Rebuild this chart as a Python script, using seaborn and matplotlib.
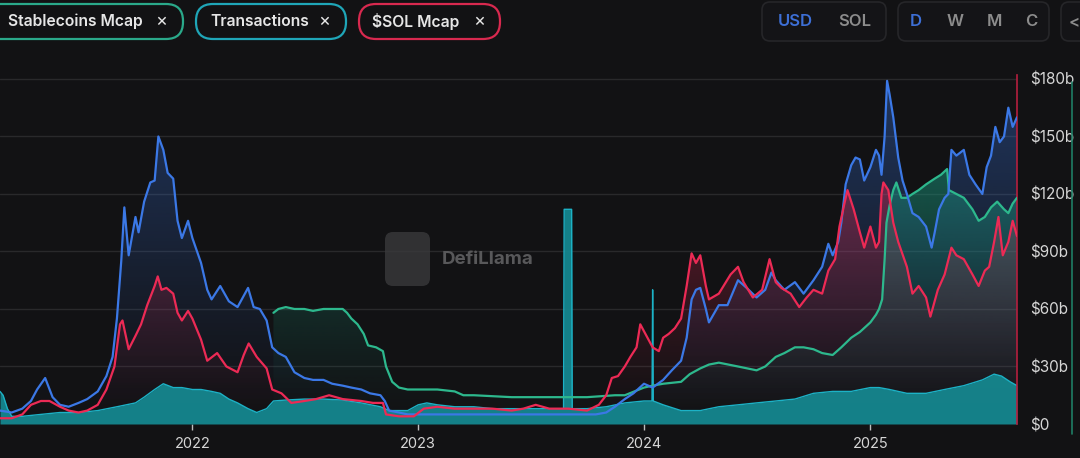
import numpy as np
import pandas as pd
import matplotlib
matplotlib.use("Agg")
import matplotlib.pyplot as plt
import matplotlib.dates as mdates
from matplotlib.patches import FancyBboxPatch
from matplotlib.lines import Line2D
from matplotlib.colors import to_rgb
import seaborn as sns

# ---------------- data (values in $ billions) ----------------
tvl_dates = [
    "2021-02-24", "2021-03-15", "2021-04-01", "2021-04-15", "2021-04-25", "2021-05-08", "2021-05-20", "2021-06-01", "2021-06-15", "2021-07-01",
    "2021-07-15", "2021-08-01", "2021-08-15", "2021-08-25", "2021-09-01", "2021-09-08", "2021-09-13", "2021-09-20", "2021-10-01", "2021-10-06",
    "2021-10-15", "2021-10-25", "2021-11-01", "2021-11-07", "2021-11-15", "2021-11-22", "2021-12-01", "2021-12-08", "2021-12-15", "2021-12-25",
    "2022-01-01", "2022-01-15", "2022-01-25", "2022-02-01", "2022-02-15", "2022-03-01", "2022-03-15", "2022-04-01", "2022-04-10", "2022-04-20",
    "2022-05-01", "2022-05-10", "2022-05-20", "2022-06-01", "2022-06-15", "2022-07-01", "2022-07-15", "2022-08-01", "2022-08-15", "2022-09-01",
    "2022-09-15", "2022-10-01", "2022-10-15", "2022-11-01", "2022-11-08", "2022-11-15", "2022-12-01", "2022-12-15", "2023-01-15", "2023-03-01",
    "2023-05-01", "2023-07-01", "2023-09-01", "2023-10-15", "2023-11-01", "2023-11-15", "2023-12-01", "2023-12-15", "2024-01-01", "2024-01-15",
    "2024-02-01", "2024-02-15", "2024-03-01", "2024-03-10", "2024-03-18", "2024-03-25", "2024-04-01", "2024-04-10", "2024-04-15", "2024-05-01",
    "2024-05-15", "2024-06-01", "2024-06-15", "2024-07-01", "2024-07-15", "2024-07-25", "2024-08-01", "2024-08-15", "2024-09-01", "2024-09-15",
    "2024-10-01", "2024-10-15", "2024-10-25", "2024-11-01", "2024-11-10", "2024-11-15", "2024-11-22", "2024-12-01", "2024-12-08", "2024-12-15",
    "2024-12-22", "2025-01-01", "2025-01-10", "2025-01-15", "2025-01-19", "2025-01-24", "2025-01-28", "2025-02-01", "2025-02-07", "2025-02-15",
    "2025-02-22", "2025-03-01", "2025-03-10", "2025-03-20", "2025-04-01", "2025-04-10", "2025-04-15", "2025-04-22", "2025-05-01", "2025-05-07",
    "2025-05-12", "2025-05-20", "2025-06-01", "2025-06-10", "2025-06-20", "2025-07-01", "2025-07-08", "2025-07-15", "2025-07-22", "2025-07-29",
    "2025-08-05", "2025-08-12", "2025-08-19", "2025-08-26",
]
tvl_vals = [
    7, 6, 8, 12, 18, 24, 14, 10, 9, 11,
    13, 17, 25, 35, 55, 85, 113, 88, 108, 100,
    116, 126, 127, 150, 143, 131, 128, 106, 97, 106,
    97, 84, 70, 65, 72, 64, 61, 71, 61, 60,
    54, 40, 37, 35, 27, 24, 23, 23, 21, 20,
    19, 18, 16, 15, 12, 7, 6, 5, 5, 5,
    5, 5, 5, 5, 6, 9, 13, 16, 21, 19,
    23, 28, 33, 45, 65, 70, 71, 60, 53, 62,
    62, 75, 71, 66, 70, 79, 75, 70, 74, 68,
    75, 82, 94, 88, 95, 105, 125, 135, 139, 138,
    127, 134, 143, 140, 130, 150, 179, 172, 160, 139,
    127, 120, 110, 108, 103, 92, 100, 112, 118, 120,
    143, 140, 143, 130, 125, 120, 134, 140, 155, 147,
    150, 165, 155, 160,
]

sol_dates = [
    "2021-02-24", "2021-03-15", "2021-04-01", "2021-04-15", "2021-05-01", "2021-05-15", "2021-06-01", "2021-06-15", "2021-07-01", "2021-07-15",
    "2021-08-01", "2021-08-15", "2021-08-28", "2021-09-06", "2021-09-10", "2021-09-20", "2021-10-01", "2021-10-10", "2021-10-20", "2021-11-01",
    "2021-11-06", "2021-11-12", "2021-11-20", "2021-12-01", "2021-12-08", "2021-12-15", "2021-12-25", "2022-01-01", "2022-01-15", "2022-01-25",
    "2022-02-10", "2022-02-25", "2022-03-15", "2022-03-25", "2022-04-02", "2022-04-15", "2022-05-01", "2022-05-10", "2022-05-25", "2022-06-10",
    "2022-07-01", "2022-07-20", "2022-08-10", "2022-09-01", "2022-10-01", "2022-10-20", "2022-11-05", "2022-11-10", "2022-12-01", "2022-12-25",
    "2023-01-10", "2023-02-01", "2023-03-01", "2023-04-01", "2023-05-01", "2023-06-01", "2023-06-20", "2023-07-10", "2023-08-01", "2023-09-01",
    "2023-10-01", "2023-10-20", "2023-11-01", "2023-11-10", "2023-11-20", "2023-12-01", "2023-12-10", "2023-12-20", "2023-12-26", "2024-01-05",
    "2024-01-15", "2024-01-25", "2024-02-01", "2024-02-10", "2024-02-20", "2024-03-01", "2024-03-10", "2024-03-18", "2024-03-25", "2024-04-01",
    "2024-04-10", "2024-04-15", "2024-05-01", "2024-05-20", "2024-06-01", "2024-06-10", "2024-06-25", "2024-07-10", "2024-07-22", "2024-08-01",
    "2024-08-10", "2024-08-25", "2024-09-08", "2024-09-20", "2024-10-01", "2024-10-15", "2024-10-25", "2024-11-05", "2024-11-12", "2024-11-20",
    "2024-11-25", "2024-12-05", "2024-12-15", "2024-12-22", "2025-01-01", "2025-01-10", "2025-01-15", "2025-01-19", "2025-01-22", "2025-01-30",
    "2025-02-07", "2025-02-15", "2025-03-01", "2025-03-10", "2025-03-20", "2025-04-01", "2025-04-08", "2025-04-20", "2025-05-01", "2025-05-12",
    "2025-05-20", "2025-06-01", "2025-06-15", "2025-06-25", "2025-07-05", "2025-07-12", "2025-07-20", "2025-07-27", "2025-08-03", "2025-08-12",
    "2025-08-19", "2025-08-26",
]
sol_vals = [
    3, 3, 5, 10, 12, 12, 9, 7, 6, 7,
    10, 18, 30, 52, 54, 39, 46, 52, 62, 72,
    77, 70, 71, 68, 58, 54, 59, 55, 44, 33,
    37, 30, 27, 36, 42, 35, 29, 18, 16, 11,
    12, 13, 15, 13, 12, 11, 11, 5, 4, 4,
    8, 9, 8, 8, 8, 7, 8, 10, 8, 8,
    7, 10, 15, 24, 25, 30, 35, 40, 52, 46,
    40, 38, 45, 47, 50, 55, 72, 89, 84, 88,
    72, 65, 68, 78, 82, 74, 66, 70, 86, 74,
    71, 68, 61, 66, 70, 68, 80, 86, 103, 115,
    122, 112, 100, 92, 103, 92, 95, 120, 126, 122,
    105, 95, 82, 68, 72, 66, 56, 70, 78, 92,
    88, 86, 78, 72, 80, 82, 95, 108, 88, 95,
    106, 98,
]

stable_dates = [
    "2022-05-12", "2022-05-20", "2022-06-01", "2022-06-15", "2022-07-01", "2022-07-15", "2022-08-01", "2022-08-15", "2022-09-01", "2022-09-08",
    "2022-09-15", "2022-09-25", "2022-10-05", "2022-10-12", "2022-10-25", "2022-11-05", "2022-11-10", "2022-11-20", "2022-12-01", "2022-12-15",
    "2023-01-01", "2023-02-01", "2023-03-01", "2023-03-15", "2023-04-01", "2023-06-01", "2023-08-01", "2023-10-01", "2023-11-15", "2023-12-01",
    "2024-01-01", "2024-01-15", "2024-02-01", "2024-03-01", "2024-03-15", "2024-04-01", "2024-04-15", "2024-05-01", "2024-06-01", "2024-07-01",
    "2024-07-15", "2024-08-01", "2024-08-15", "2024-09-01", "2024-09-15", "2024-10-01", "2024-10-15", "2024-11-01", "2024-11-15", "2024-12-01",
    "2024-12-15", "2025-01-01", "2025-01-10", "2025-01-15", "2025-01-20", "2025-01-24", "2025-01-27", "2025-02-01", "2025-02-07", "2025-02-12",
    "2025-02-20", "2025-03-01", "2025-03-10", "2025-03-20", "2025-04-01", "2025-04-15", "2025-04-25", "2025-05-05", "2025-05-08", "2025-05-20",
    "2025-06-01", "2025-06-15", "2025-06-25", "2025-07-05", "2025-07-15", "2025-07-25", "2025-08-05", "2025-08-12", "2025-08-19", "2025-08-26",
]
stable_vals = [
    58, 60, 61, 60, 60, 59, 60, 60, 60, 58,
    55, 52, 47, 41, 40, 38, 30, 22, 19, 18,
    18, 18, 17, 15, 15, 14, 14, 14, 15, 15,
    19, 20, 21, 22, 26, 29, 31, 32, 30, 28,
    30, 35, 37, 40, 40, 39, 37, 36, 40, 45,
    48, 53, 57, 60, 65, 86, 105, 114, 122, 126,
    118, 118, 120, 122, 125, 128, 130, 133, 122, 120,
    118, 112, 106, 108, 113, 116, 112, 110, 115, 118,
]

tx_dates = [
    "2021-02-24", "2021-03-01", "2021-03-08", "2021-03-15", "2021-04-01", "2021-05-01", "2021-06-01", "2021-07-01", "2021-08-01", "2021-09-01",
    "2021-10-01", "2021-10-15", "2021-11-01", "2021-11-15", "2021-12-01", "2021-12-15", "2022-01-01", "2022-01-15", "2022-02-01", "2022-02-15",
    "2022-03-01", "2022-03-15", "2022-04-01", "2022-04-15", "2022-05-01", "2022-05-12", "2022-06-01", "2022-07-01", "2022-08-01", "2022-09-01",
    "2022-10-01", "2022-11-01", "2022-11-15", "2022-12-01", "2022-12-15", "2023-01-01", "2023-01-15", "2023-02-01", "2023-03-01", "2023-04-01",
    "2023-05-01", "2023-06-01", "2023-07-01", "2023-08-01", "2023-08-24", "2023-08-25", "2023-09-06", "2023-09-07", "2023-10-01", "2023-11-01",
    "2023-12-01", "2024-01-01", "2024-01-14", "2024-01-15", "2024-01-16", "2024-02-01", "2024-03-01", "2024-04-01", "2024-05-01", "2024-06-01",
    "2024-07-01", "2024-08-01", "2024-09-01", "2024-10-01", "2024-11-01", "2024-12-01", "2025-01-01", "2025-01-15", "2025-02-01", "2025-03-01",
    "2025-04-01", "2025-05-01", "2025-06-01", "2025-07-01", "2025-07-20", "2025-08-01", "2025-08-15", "2025-08-26",
]
tx_vals = [
    17, 15, 8, 4, 4, 5, 6, 6, 7, 9,
    11, 14, 18, 21, 19, 19, 18, 18, 17, 16,
    13, 11, 8, 6, 8, 12, 12.5, 13, 13, 12.5,
    11, 9, 7, 7, 7, 10, 11, 10, 9, 9,
    8, 8, 8, 8, 8, 112, 112, 8, 8, 9,
    11, 12, 12, 70, 12, 10, 7, 7, 9, 10,
    11, 12, 13, 16, 17, 17, 19, 19, 18, 16,
    16, 18, 20, 23, 26, 25, 22, 20,
]

legend_labels = ["Stablecoins Mcap", "Transactions", "$SOL Mcap"]
ytick_vals = [0, 30, 60, 90, 120, 150, 180]
ytick_labels = ["$0", "$30b", "$60b", "$90b", "$120b", "$150b", "$180b"]

# ---------------- style ----------------
BG = "#121214"
C_BLUE = "#3b78e6"
C_RED = "#ec2a55"
C_GREEN = "#2db88d"
C_TEAL_FILL = "#15878f"
C_TEAL_LINE = "#1cb2c6"

sns.set_theme(style="dark")
plt.rcParams["font.family"] = ["Inter", "DejaVu Sans"]

W, H = 1080, 458
fig = plt.figure(figsize=(W / 100, H / 100), dpi=100, facecolor=BG)
ax = fig.add_axes([0, (H - 424) / H, 1017 / W, (424 - 60) / H])
ax.set_facecolor(BG)


def series(dates, vals):
    assert len(dates) == len(vals), (len(dates), len(vals))
    return pd.DataFrame({"date": pd.to_datetime(dates), "value": np.asarray(vals, dtype=float)})


df_tvl = series(tvl_dates, tvl_vals)
df_sol = series(sol_dates, sol_vals)
df_st = series(stable_dates, stable_vals)
df_tx = series(tx_dates, tx_vals)


def gradient_area(df, color, a_top, z, power=1.0):
    coll = ax.fill_between(df["date"], df["value"], 0, facecolor="none", edgecolor="none")
    xn = mdates.date2num(df["date"])
    grad = np.zeros((256, 1, 4))
    grad[..., :3] = to_rgb(color)
    grad[..., 3] = (np.linspace(0.0, 1.0, 256) ** power * a_top)[:, None]
    im = ax.imshow(grad, aspect="auto", origin="lower",
                   extent=[xn[0], xn[-1], 0, df["value"].max()],
                   zorder=z, interpolation="bilinear")
    im.set_clip_path(coll.get_paths()[0], transform=ax.transData)


gradient_area(df_tvl, C_BLUE, 0.36, 1.0, 1.2)
gradient_area(df_sol, C_RED, 0.38, 1.1, 1.3)
gradient_area(df_st, "#1a9c82", 0.50, 1.2, 1.3)

ax.fill_between(df_tx["date"], df_tx["value"], 0, color=C_TEAL_FILL, alpha=0.95, lw=0, zorder=2)

sns.lineplot(data=df_tx, x="date", y="value", ax=ax, color=C_TEAL_LINE, linewidth=1.0, zorder=2.5)
sns.lineplot(data=df_st, x="date", y="value", ax=ax, color=C_GREEN, linewidth=1.6, zorder=3)
sns.lineplot(data=df_tvl, x="date", y="value", ax=ax, color=C_BLUE, linewidth=1.6, zorder=3.5)
sns.lineplot(data=df_sol, x="date", y="value", ax=ax, color=C_RED, linewidth=1.6, zorder=4)

ax.set_xlim(pd.Timestamp("2021-02-24"), pd.Timestamp("2025-08-26"))
ax.set_ylim(0, 364 / 1.917)
ax.set_xlabel("")
ax.set_ylabel("")

ax.set_yticks(ytick_vals)
ax.set_yticklabels(ytick_labels)
ax.yaxis.tick_right()
ax.tick_params(axis="y", length=0, pad=9.5, labelsize=11, labelcolor="#d6d6d6")
ax.xaxis.set_major_locator(mdates.YearLocator())
ax.xaxis.set_major_formatter(mdates.DateFormatter("%Y"))
ax.tick_params(axis="x", length=4, width=1, color="#bdbdbd", pad=5, labelsize=10.5,
               labelcolor="#d6d6d6", bottom=True, direction="out")
ax.yaxis.grid(True, color="#29292b", lw=1.0, zorder=0.5)
ax.xaxis.grid(False)
ax.set_axisbelow(True)
for s in ("left", "top", "bottom"):
    ax.spines[s].set_visible(False)
ax.spines["right"].set_color("#b51f3f")
ax.spines["right"].set_linewidth(1.2)
ax.spines["right"].set_bounds(0, 182)

# ---------------- overlay (pixel coordinates) ----------------
ov = fig.add_axes([0, 0, 1, 1], zorder=10)
ov.set_xlim(0, W)
ov.set_ylim(H, 0)
ov.axis("off")

# right green axis line
ov.add_line(Line2D([1072, 1072], [82, 434], color="#1f7d65", lw=1.2, zorder=1))


def pill(x0, x1, y0, y1, edge, r, lw=1.6, face=BG):
    ov.add_patch(FancyBboxPatch((x0, y0), x1 - x0, y1 - y0,
                                boxstyle=f"round,pad=0,rounding_size={r}",
                                facecolor=face, edgecolor=edge, lw=lw, zorder=2))


pill(-30, 183, 4, 39, "#2aa98a", 17)
pill(196, 346, 4, 39, "#1fa6b8", 17)
pill(359, 500, 4, 39, "#d8294f", 17)

txt_kw = dict(va="center", color="#e6e6e6", fontsize=11.3, fontweight="semibold", zorder=3)
x_kw = dict(va="center", ha="center", color="#e6e6e6", fontsize=13, zorder=3)
ov.text(8, 21.5, legend_labels[0], ha="left", **txt_kw)
ov.text(161, 21.5, "×", **x_kw)
ov.text(210, 21.5, legend_labels[1], ha="left", **txt_kw)
ov.text(324, 21.5, "×", **x_kw)
ov.text(372, 21.5, legend_labels[2], ha="left", **txt_kw)
ov.text(479, 21.5, "×", **x_kw)

# top-right toggles
pill(762, 886, 2, 41, "#262629", 8, lw=1.2, face="#141417")
pill(898, 1049, 2, 41, "#262629", 8, lw=1.2, face="#141417")
pill(1061, 1100, 2, 41, "#262629", 8, lw=1.2, face="#141417")
btn_kw = dict(va="center", ha="center", fontsize=12, fontweight="semibold", zorder=3)
ov.text(795, 21.5, "USD", color="#3d6fd6", **btn_kw)
ov.text(855, 21.5, "SOL", color="#8c8c8c", **btn_kw)
ov.text(916, 21.5, "D", color="#3d6fd6", **btn_kw)
ov.text(955, 21.5, "W", color="#8c8c8c", **btn_kw)
ov.text(994, 21.5, "M", color="#8c8c8c", **btn_kw)
ov.text(1031, 21.5, "C", color="#8c8c8c", **btn_kw)
ov.text(1074, 21.5, "<", color="#8c8c8c", **btn_kw)

# watermark
ov.add_patch(FancyBboxPatch((385, 232), 45, 54, boxstyle="round,pad=0,rounding_size=8",
                            facecolor="#3a3a3c", edgecolor="none", alpha=0.8, zorder=1))
ov.text(442, 260, "DefiLlama", ha="left", va="center", fontsize=13.5,
        fontweight="bold", color="#58585a", zorder=1)

fig.savefig("out.png", dpi=100, facecolor=BG)
